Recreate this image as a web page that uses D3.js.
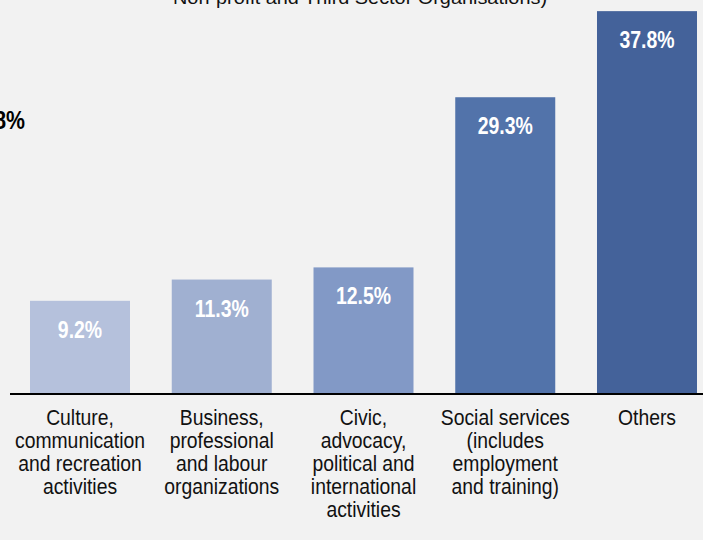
<!DOCTYPE html>
<html><head><meta charset="utf-8">
<script src="https://cdn.jsdelivr.net/npm/d3@7"></script>
<style>
html,body{margin:0;padding:0;background:#f2f2f2;overflow:hidden}
svg{display:block}
</style></head>
<body>
<script>
const categories = ["Culture","Business","Civic","Social","Others"];
const categoryLines = [
  ["Culture,","communication","and recreation","activities"],
  ["Business,","professional","and labour","organizations"],
  ["Civic,","advocacy,","political and","international","activities"],
  ["Social services","(includes","employment","and training)"],
  ["Others"]
];
const values = [9.2, 11.3, 12.5, 29.3, 37.8];
const valueLabels = ["9.2%","11.3%","12.5%","29.3%","37.8%"];
const colors = ["#b5c1dc","#a0b0d1","#8299c6","#5273aa","#44629a"];
const titleText = "Non-profit and Third Sector Organisations)";
const sideLabel = "8%";

const W = 703, H = 540;
const svg = d3.select("body").append("svg").attr("width", W).attr("height", H);
svg.append("rect").attr("width", W).attr("height", H).attr("fill", "#f2f2f2");

const x = d3.scaleBand().domain(categories).range([30, 697]).paddingInner(0.2945).paddingOuter(0);
const y = d3.scaleLinear().domain([0, 38.9]).range([394, 0]);

const font = "'Liberation Sans',Arial,Helvetica,sans-serif";

svg.selectAll("rect.bar").data(values).enter().append("rect")
  .attr("class","bar")
  .attr("x", (d,i) => x(categories[i]))
  .attr("y", d => y(d))
  .attr("width", x.bandwidth())
  .attr("height", d => y(0) - y(d))
  .attr("fill", (d,i) => colors[i]);

svg.selectAll("text.val").data(values).enter().append("text")
  .attr("class","val")
  .attr("transform", (d,i) => `translate(${x(categories[i]) + x.bandwidth()/2},${y(d) + 37}) scale(0.81,1)`)
  .attr("text-anchor","middle")
  .attr("fill","#ffffff")
  .attr("font-family", font)
  .attr("font-weight","bold")
  .attr("font-size", 24)
  .text((d,i) => valueLabels[i]);

// axis baseline
const xAxis = d3.axisBottom(x).tickSize(0).tickFormat("");
const ax = svg.append("g").attr("transform", `translate(0,${y(0)})`).call(xAxis);
ax.select(".domain").remove();
svg.append("line").attr("x1", 10).attr("x2", 703).attr("y1", y(0)).attr("y2", y(0))
  .attr("stroke","#000").attr("stroke-width", 2);

// category labels
categories.forEach((c,i) => {
  const g = svg.append("g")
    .attr("transform", `translate(${x(c) + x.bandwidth()/2},0) scale(0.9,1)`);
  const t = g.append("text")
    .attr("text-anchor","middle")
    .attr("font-family", font)
    .attr("font-size", 21.5)
    .attr("fill","#111");
  categoryLines[i].forEach((ln,j) => {
    t.append("tspan")
      .attr("x", 0)
      .attr("y", 425 + j*23)
      .text(ln);
  });
});

// cut-off title
svg.append("text")
  .attr("x", 360).attr("y", 4)
  .attr("text-anchor","middle")
  .attr("font-family", font)
  .attr("font-size", 18)
  .attr("fill","#111")
  .attr("textLength", 374)
  .attr("lengthAdjust","spacingAndGlyphs")
  .text(titleText);

// cut-off side label
svg.append("text")
  .attr("transform", "translate(25,129) scale(0.82,1)")
  .attr("text-anchor","end")
  .attr("font-family", font)
  .attr("font-weight","bold")
  .attr("font-size", 26)
  .attr("fill","#000")
  .text(sideLabel);
</script>
</body></html>
